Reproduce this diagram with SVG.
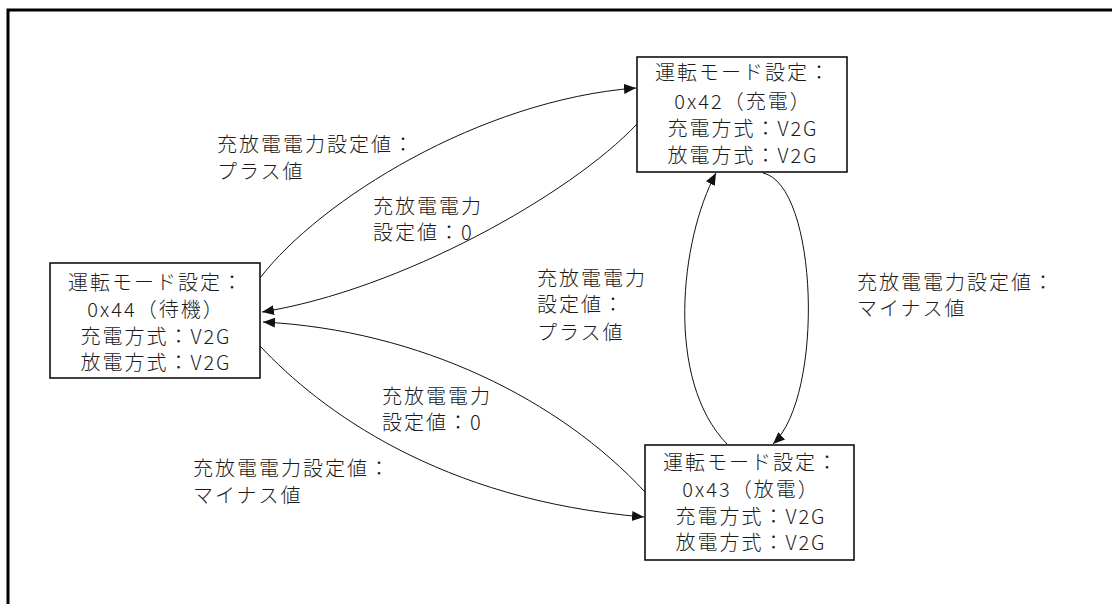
<svg xmlns="http://www.w3.org/2000/svg" width="1112" height="604" viewBox="0 0 1112 604">
<style>
text{font-family:"Noto Sans CJK JP","Noto Sans",sans-serif;font-size:20px;font-weight:300;letter-spacing:2px;fill:#1a1a1a}
.node rect{fill:#fff;stroke:#111;stroke-width:1.6}
.node text{text-anchor:middle}
.edge{fill:none;stroke:#111;stroke-width:1;marker-end:url(#arr)}
</style>
<defs>
<marker id="arr" markerUnits="userSpaceOnUse" markerWidth="14" markerHeight="12" refX="12" refY="5" orient="auto">
<path d="M0,0 L12,5 L0,10 Z" fill="#111"/>
</marker>
</defs>
<rect width="1112" height="604" fill="#fff"/>
<path d="M8,604 V10 H1112" fill="none" stroke="#000" stroke-width="3"/>
<g id="connectors">
<path class="edge" d="M260,278 C320,200 480,100 636,88"/>
<path class="edge" d="M637,124 C570,195 400,290 262,312"/>
<path class="edge" d="M645,492 C560,400 420,330 263,322"/>
<path class="edge" d="M260,346 C320,410 440,500 644,517"/>
<path class="edge" d="M727,444 C665,380 680,240 716,173"/>
<path class="edge" d="M763,173 C818,185 825,395 773,444"/>
</g>
<g id="node-charge" class="node">
<rect x="637" y="57" width="210" height="115"/>
<text x="743" y="80">運転モード設定：</text>
<text x="743" y="109">0x42（充電）</text>
<text x="743" y="136">充電方式：V2G</text>
<text x="743" y="163">放電方式：V2G</text>
</g>
<g id="node-standby" class="node">
<rect x="50" y="263" width="210" height="115"/>
<text x="156" y="290">運転モード設定：</text>
<text x="156" y="317">0x44（待機）</text>
<text x="156" y="344">充電方式：V2G</text>
<text x="156" y="370">放電方式：V2G</text>
</g>
<g id="node-discharge" class="node">
<rect x="645" y="445" width="209" height="115"/>
<text x="751" y="470">運転モード設定：</text>
<text x="751" y="497">0x43（放電）</text>
<text x="751" y="524">充電方式：V2G</text>
<text x="751" y="550">放電方式：V2G</text>
</g>
<g id="labels">
<text x="217" y="152">充放電電力設定値：</text>
<text x="217" y="179">プラス値</text>
<text x="373" y="214">充放電電力</text>
<text x="373" y="240">設定値：0</text>
<text x="537" y="286">充放電電力</text>
<text x="537" y="312">設定値：</text>
<text x="537" y="340">プラス値</text>
<text x="382" y="404">充放電電力</text>
<text x="382" y="430">設定値：0</text>
<text x="193" y="476">充放電電力設定値：</text>
<text x="193" y="503">マイナス値</text>
<text x="857" y="290">充放電電力設定値：</text>
<text x="857" y="316">マイナス値</text>
</g>
</svg>
